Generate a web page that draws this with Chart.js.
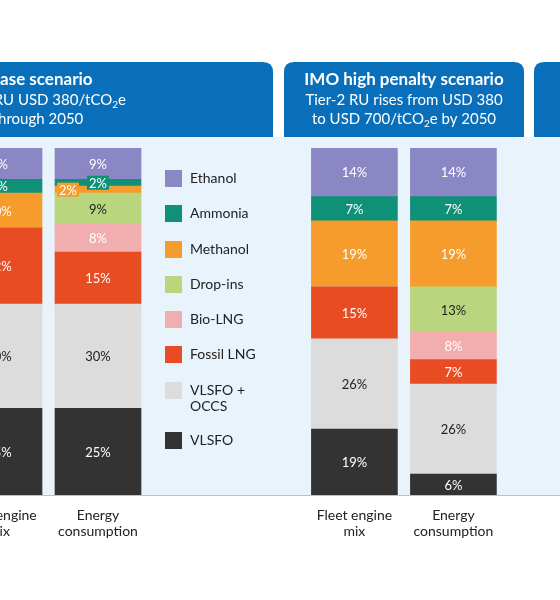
<!DOCTYPE html>
<html>
<head>
<meta charset="utf-8">
<script src="https://cdn.jsdelivr.net/npm/chart.js@4/dist/chart.umd.min.js"></script>
<style>
  body { margin: 0; background: #fff; font-family: Lato, sans-serif; }
  #wrap { position: relative; width: 560px; height: 600px; }
  #legend { position: absolute; left: 165px; top: 170px; font-size: 14px; color: #222; }
  .item { display: flex; align-items: flex-start; height: 35.3px; }
  .sw { width: 17px; height: 17px; margin-right: 8px; flex: none; }
</style>
</head>
<body>
<div id="wrap">
  <canvas id="c" width="560" height="600"></canvas>
  <div id="legend"></div>
</div>
<script>
// bars, bottom to top
const barLabels = [['Fleet engine', 'mix'], ['Energy', 'consumption'], ['Fleet engine', 'mix'], ['Energy', 'consumption']];
const barPos = [0, 1, 3.59, 4.59];
const fuels = ['VLSFO', 'VLSFO + OCCS', 'Fossil LNG', 'Bio-LNG', 'Drop-ins', 'Methanol', 'Ammonia', 'Ethanol'];
const colors = ['#333333', '#dcdcdc', '#e84c23', '#f2aeae', '#b9d67f', '#f59c2c', '#0f9178', '#8a87c4'];
const textColors = ['#fff', '#222', '#fff', '#fff', '#222', '#fff', '#fff', '#fff'];
const vlsfo     = [25, 25, 19, 6];
const occs      = [30, 30, 26, 26];
const fossilLng = [22, 15, 15, 7];
const bioLng    = [0, 8, 0, 8];
const dropIns   = [0, 9, 0, 13];
const methanol  = [10, 2, 19, 19];
const ammonia   = [4, 2, 7, 7];
const ethanol   = [9, 9, 14, 14];
const series = [vlsfo, occs, fossilLng, bioLng, dropIns, methanol, ammonia, ethanol];

// legend (top to bottom)
const legendEl = document.getElementById('legend');
for (let i = fuels.length - 1; i >= 0; i--) {
  const d = document.createElement('div');
  d.className = 'item';
  const name = fuels[i] === 'VLSFO + OCCS' ? 'VLSFO +<br>OCCS' : fuels[i];
  d.innerHTML = `<span class="sw" style="background:${colors[i]}"></span><span style="line-height:16px">${name}</span>`;
  if (i === 1) d.style.height = '50px';
  legendEl.appendChild(d);
}

function roundTop(ctx, x, y, w, h, r) {
  ctx.beginPath();
  ctx.moveTo(x, y + h);
  ctx.lineTo(x, y + r);
  ctx.quadraticCurveTo(x, y, x + r, y);
  ctx.lineTo(x + w - r, y);
  ctx.quadraticCurveTo(x + w, y, x + w, y + r);
  ctx.lineTo(x + w, y + h);
  ctx.closePath();
  ctx.fill();
}

function subText(ctx, parts, cx, y) {
  // parts: [text, isSub]
  let total = 0;
  parts.forEach(p => { ctx.font = p[1] ? '10px Lato' : '15px Lato'; total += ctx.measureText(p[0]).width; });
  let x = cx - total / 2;
  ctx.textAlign = 'left';
  parts.forEach(p => {
    ctx.font = p[1] ? '10px Lato' : '15px Lato';
    ctx.fillText(p[0], x, p[1] ? y + 5 : y);
    x += ctx.measureText(p[0]).width;
  });
}

const backdrop = {
  id: 'backdrop',
  beforeDraw(chart) {
    const ctx = chart.ctx;
    ctx.save();
    ctx.fillStyle = '#e8f3fb';
    ctx.fillRect(0, 137, 560, 358);
    ctx.fillStyle = '#0a6fba';
    roundTop(ctx, -20, 62, 293, 75, 10);
    roundTop(ctx, 284, 62, 240, 75, 10);
    roundTop(ctx, 534, 62, 60, 75, 10);
    ctx.fillStyle = '#fff';
    ctx.textBaseline = 'middle';
    ctx.textAlign = 'center';
    ctx.font = 'bold 17px Lato';
    ctx.fillText('IMO base scenario', 22, 80);
    ctx.fillText('IMO high penalty scenario', 404, 80);
    subText(ctx, [['Tier-2 RU USD 380/tCO', 0], ['2', 1], ['e', 0]], 38, 100);
    ctx.font = '15px Lato';
    ctx.textAlign = 'center';
    ctx.fillText('through 2050', 38, 119);
    ctx.fillText('Tier-2 RU rises from USD 380', 404, 100);
    subText(ctx, [['to USD 700/tCO', 0], ['2', 1], ['e by 2050', 0]], 404, 119);
    ctx.restore();
  },
  afterDraw(chart) {
    const ctx = chart.ctx;
    const xs = chart.scales.x;
    ctx.save();
    ctx.strokeStyle = '#b8c4cc';
    ctx.beginPath();
    ctx.moveTo(0, chart.chartArea.bottom + 0.5);
    ctx.lineTo(560, chart.chartArea.bottom + 0.5);
    ctx.stroke();
    ctx.fillStyle = '#222';
    ctx.font = '14px Lato';
    ctx.textAlign = 'center';
    ctx.textBaseline = 'middle';
    barPos.forEach((p, i) => {
      const x = xs.getPixelForValue(p);
      ctx.fillText(barLabels[i][0], x, 515);
      ctx.fillText(barLabels[i][1], x, 531);
    });
    // segment labels
    ctx.font = '13px Lato';
    chart.data.datasets.forEach((ds, di) => {
      chart.getDatasetMeta(di).data.forEach((bar, i) => {
        const v = series[di][i];
        if (!v) return;
        const midY = (bar.y + bar.base) / 2;
        let x = bar.x;
        const txt = v + '%';
        if (Math.abs(bar.base - bar.y) < 12) {
          const w = ctx.measureText(txt).width + 4;
          if (fuels[di] === 'Methanol') x = bar.x - 30;
          ctx.fillStyle = colors[di];
          ctx.fillRect(x - w / 2, midY - 7, w, 14);
        }
        ctx.fillStyle = textColors[di];
        ctx.fillText(txt, x, midY + 1);
      });
    });
    ctx.restore();
  }
};

new Chart(document.getElementById('c'), {
  type: 'bar',
  data: {
    datasets: fuels.map((f, k) => ({
      label: f,
      data: series[k].map((v, i) => ({ x: barPos[i], y: v })),
      backgroundColor: colors[k],
      borderWidth: 0,
      barThickness: 86
    }))
  },
  options: {
    responsive: false,
    animation: false,
    layout: { padding: { top: 148, bottom: 105, left: 0, right: 0 } },
    plugins: { legend: { display: false }, tooltip: { enabled: false } },
    scales: {
      x: { type: 'linear', stacked: true, offset: false, min: 0.0101, max: 0.0101 + 560 / 99, display: false },
      y: { stacked: true, min: 0, max: 100, display: false }
    }
  },
  plugins: [backdrop]
});
</script>
</body>
</html>
